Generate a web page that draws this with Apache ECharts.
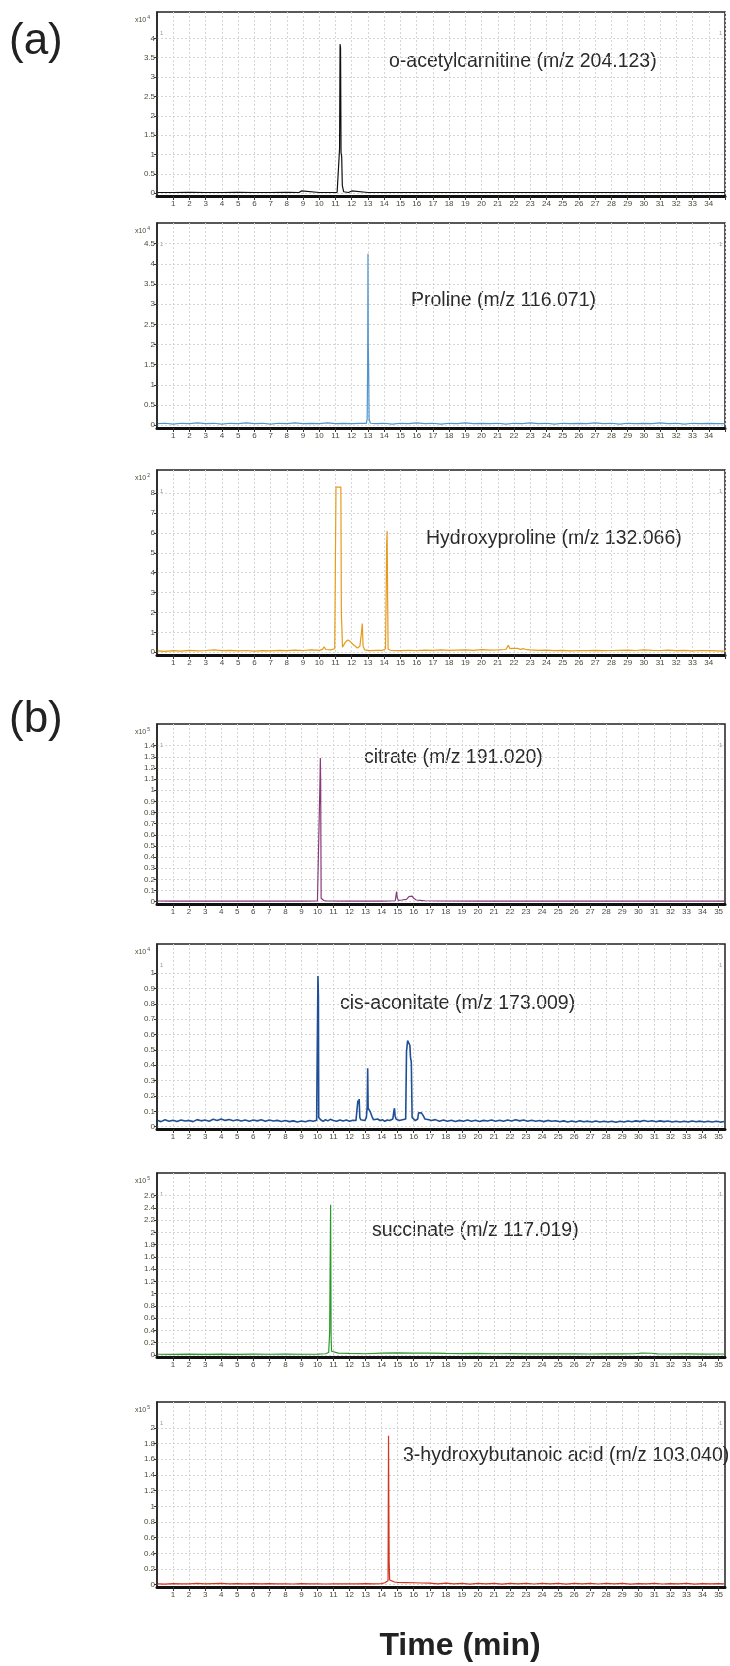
<!DOCTYPE html>
<html>
<head>
<meta charset="utf-8">
<script src="https://cdn.jsdelivr.net/npm/echarts@6/dist/echarts.min.js"></script>
<style>
html, body { margin: 0; padding: 0; background: #fff; }
#chart { width: 730px; height: 1666px; }
</style>
</head>
<body>
<div id="chart"></div>
<script>
// x axis: minutes
const minutesA = [1,2,3,4,5,6,7,8,9,10,11,12,13,14,15,16,17,18,19,20,21,22,23,24,25,26,27,28,29,30,31,32,33,34,35];
const labelsA = [1,2,3,4,5,6,7,8,9,10,11,12,13,14,15,16,17,18,19,20,21,22,23,24,25,26,27,28,29,30,31,32,33,34];
const minutesB = [1,2,3,4,5,6,7,8,9,10,11,12,13,14,15,16,17,18,19,20,21,22,23,24,25,26,27,28,29,30,31,32,33,34,35];

// y axis tick labels (scaled units)
const ticksAcetyl = [0,0.5,1,1.5,2,2.5,3,3.5,4];
const ticksProline = [0,0.5,1,1.5,2,2.5,3,3.5,4,4.5];
const ticksHyp = [0,1,2,3,4,5,6,7,8];
const ticksCitrate = [0,0.1,0.2,0.3,0.4,0.5,0.6,0.7,0.8,0.9,1,1.1,1.2,1.3,1.4];
const ticksCis = [0,0.1,0.2,0.3,0.4,0.5,0.6,0.7,0.8,0.9,1];
const ticksSucc = [0,0.2,0.4,0.6,0.8,1,1.2,1.4,1.6,1.8,2,2.2,2.4,2.6];
const ticks3HB = [0,0.2,0.4,0.6,0.8,1,1.2,1.4,1.6,1.8,2];

// traces [time (min), intensity]
const acetylcarnitine = [[0.05,0.02],[1,0.02],[2,0.025],[3,0.02],[4,0.02],[5,0.025],[6,0.02],[7,0.02],[8,0.025],[8.75,0.02],[8.8,0.06],[8.9,0.06],[8.95,0.02],[10,0.02],[11.1,0.025],[11.22,0.04],[11.25,1.15],[11.28,3.85],[11.31,3.75],[11.34,1.05],[11.38,0.95],[11.42,0.2],[11.5,0.04],[11.8,0.02],[11.85,0.06],[11.9,0.02],[12.0,0.06],[12.05,0.02],[13,0.02],[15,0.02],[18,0.02],[21,0.02],[24,0.02],[27,0.02],[30,0.02],[33,0.02],[35,0.02]];

const proline = [[0.05,0.04],[0.5,0.05],[1,0.03],[1.5,0.05],[2,0.04],[2.5,0.06],[3,0.04],[3.5,0.05],[4,0.03],[4.5,0.05],[5,0.04],[5.5,0.06],[6,0.04],[6.5,0.05],[7,0.03],[7.5,0.05],[8,0.04],[8.5,0.06],[9,0.04],[9.5,0.05],[10,0.04],[10.5,0.06],[11,0.04],[11.5,0.05],[12,0.04],[12.5,0.05],[12.9,0.05],[12.95,0.15],[12.98,1.5],[13.0,4.25],[13.02,1.95],[13.04,1.5],[13.07,0.15],[13.15,0.05],[13.5,0.04],[14,0.05],[14.5,0.03],[15,0.05],[15.5,0.04],[16,0.06],[16.5,0.04],[17,0.05],[17.5,0.03],[18,0.05],[18.5,0.04],[19,0.06],[19.5,0.04],[20,0.05],[20.5,0.04],[21,0.05],[21.5,0.03],[22,0.05],[22.5,0.04],[23,0.06],[23.5,0.04],[24,0.05],[24.5,0.03],[25,0.05],[25.5,0.04],[26,0.05],[26.5,0.04],[27,0.06],[27.5,0.04],[28,0.05],[28.5,0.03],[29,0.05],[29.5,0.04],[30,0.05],[30.5,0.04],[31,0.06],[31.5,0.04],[32,0.05],[32.5,0.03],[33,0.05],[33.5,0.04],[34,0.05],[34.5,0.04],[35,0.04]];

const hydroxyproline = [[0.05,0.07],[0.5,0.05],[1,0.08],[1.5,0.06],[2,0.1],[2.5,0.07],[3,0.09],[3.5,0.12],[4,0.08],[4.5,0.1],[5,0.07],[5.5,0.09],[6,0.06],[6.5,0.08],[7,0.07],[7.5,0.1],[8,0.08],[8.5,0.11],[9,0.09],[9.5,0.12],[10,0.1],[10.2,0.15],[10.3,0.28],[10.4,0.14],[10.7,0.12],[10.95,0.18],[11.03,8.3],[11.33,8.3],[11.36,2.0],[11.4,2.0],[11.43,0.25],[11.5,0.3],[11.6,0.5],[11.75,0.62],[11.9,0.55],[12.05,0.42],[12.2,0.32],[12.35,0.22],[12.5,0.3],[12.58,0.85],[12.62,0.9],[12.65,1.45],[12.7,0.3],[12.8,0.12],[13.1,0.08],[13.5,0.1],[13.9,0.1],[14.08,0.18],[14.12,2.9],[14.15,5.4],[14.18,6.1],[14.21,2.9],[14.24,0.15],[14.4,0.1],[15,0.08],[15.5,0.1],[16,0.09],[16.5,0.11],[17,0.1],[17.5,0.12],[18,0.1],[18.5,0.11],[19,0.12],[19.5,0.1],[20,0.13],[20.5,0.11],[21,0.12],[21.5,0.14],[21.65,0.35],[21.75,0.18],[21.9,0.2],[22.0,0.16],[22.2,0.2],[22.4,0.15],[22.6,0.18],[22.8,0.13],[23,0.12],[23.5,0.1],[24,0.11],[24.5,0.08],[25,0.1],[25.5,0.07],[26,0.09],[26.5,0.08],[27,0.1],[27.5,0.08],[28,0.09],[28.5,0.1],[29,0.11],[29.5,0.09],[30,0.12],[30.5,0.1],[31,0.09],[31.5,0.11],[32,0.08],[32.5,0.1],[33,0.07],[33.5,0.09],[34,0.08],[34.5,0.07],[35,0.06]];

const citrate = [[0.05,0.006],[1,0.005],[2,0.006],[3,0.005],[4,0.006],[5,0.005],[6,0.006],[7,0.005],[8,0.006],[9,0.005],[10,0.006],[10.12,0.01],[10.16,1.1],[10.18,1.29],[10.2,1.1],[10.23,0.03],[10.3,0.02],[10.4,0.01],[10.6,0.006],[12,0.005],[13,0.006],[14,0.005],[14.85,0.008],[14.93,0.09],[14.98,0.03],[15.05,0.012],[15.25,0.015],[15.55,0.02],[15.7,0.045],[15.8,0.055],[15.9,0.05],[16.0,0.03],[16.15,0.015],[16.4,0.012],[16.7,0.008],[17.6,0.006],[17.7,0.012],[17.8,0.006],[20,0.005],[22,0.006],[25,0.005],[28,0.006],[31,0.005],[35.35,0.005]];

const cisAconitate = [[0.05,0.040],[0.25,0.033],[0.5,0.045],[0.75,0.036],[1.0,0.042],[1.25,0.034],[1.5,0.044],[1.75,0.037],[2.0,0.041],[2.25,0.033],[2.5,0.046],[2.75,0.038],[3.0,0.043],[3.25,0.036],[3.5,0.048],[3.75,0.040],[4.0,0.050],[4.25,0.041],[4.5,0.047],[4.75,0.039],[5.0,0.045],[5.25,0.037],[5.5,0.044],[5.75,0.036],[6.0,0.043],[6.25,0.038],[6.5,0.045],[6.75,0.035],[7.0,0.044],[7.25,0.037],[7.5,0.041],[7.75,0.034],[8.0,0.040],[8.25,0.033],[8.5,0.038],[8.75,0.031],[9.0,0.037],[9.25,0.032],[9.5,0.040],[9.75,0.035],[9.95,0.042],[10.0,0.045],[10.03,0.98],[10.06,0.85],[10.08,0.06],[10.2,0.045],[10.35,0.035],[10.5,0.045],[10.65,0.038],[10.8,0.048],[11.0,0.040],[11.2,0.036],[11.4,0.044],[11.6,0.037],[11.8,0.043],[12.0,0.035],[12.2,0.042],[12.4,0.04],[12.48,0.05],[12.52,0.17],[12.56,0.15],[12.6,0.18],[12.64,0.06],[12.7,0.045],[12.8,0.05],[12.95,0.04],[13.05,0.06],[13.1,0.13],[13.13,0.38],[13.16,0.12],[13.22,0.13],[13.28,0.10],[13.34,0.11],[13.42,0.06],[13.5,0.045],[13.6,0.04],[13.75,0.05],[13.9,0.04],[14.05,0.045],[14.2,0.035],[14.35,0.044],[14.5,0.04],[14.7,0.05],[14.76,0.10],[14.8,0.12],[14.84,0.07],[14.9,0.05],[15.0,0.045],[15.1,0.04],[15.2,0.05],[15.3,0.045],[15.5,0.05],[15.55,0.49],[15.62,0.56],[15.7,0.55],[15.76,0.53],[15.8,0.45],[15.85,0.42],[15.9,0.06],[16.0,0.05],[16.1,0.04],[16.25,0.05],[16.3,0.09],[16.35,0.08],[16.4,0.1],[16.48,0.09],[16.6,0.07],[16.7,0.05],[16.8,0.055],[16.95,0.045],[17.1,0.04],[17.35,0.046],[17.6,0.036],[17.85,0.043],[18.1,0.035],[18.35,0.042],[18.6,0.034],[18.85,0.041],[19.1,0.036],[19.35,0.043],[19.6,0.035],[19.85,0.042],[20.1,0.034],[20.35,0.041],[20.6,0.037],[20.85,0.044],[21.1,0.036],[21.35,0.042],[21.6,0.035],[21.85,0.043],[22.1,0.037],[22.35,0.045],[22.6,0.038],[22.85,0.044],[23.1,0.036],[23.35,0.042],[23.6,0.035],[23.85,0.04],[24.1,0.033],[24.35,0.041],[24.6,0.035],[24.85,0.039],[25.1,0.032],[25.35,0.038],[25.6,0.031],[25.85,0.037],[26.1,0.03],[26.35,0.038],[26.6,0.032],[26.85,0.036],[27.1,0.03],[27.35,0.037],[27.6,0.031],[27.85,0.036],[28.1,0.03],[28.35,0.035],[28.6,0.029],[28.85,0.036],[29.1,0.031],[29.35,0.037],[29.6,0.032],[29.85,0.038],[30.1,0.033],[30.35,0.04],[30.6,0.034],[30.85,0.039],[31.1,0.032],[31.35,0.038],[31.6,0.033],[31.85,0.037],[32.1,0.031],[32.35,0.036],[32.6,0.03],[32.85,0.036],[33.1,0.031],[33.35,0.037],[33.6,0.032],[33.85,0.036],[34.1,0.03],[34.35,0.036],[34.6,0.031],[34.85,0.035],[35.1,0.03],[35.35,0.034]];

const succinate = [[0.05,0.012],[1,0.01],[2,0.014],[3,0.01],[4,0.013],[5,0.011],[6,0.014],[7,0.012],[8,0.015],[9,0.012],[10,0.015],[10.5,0.02],[10.7,0.04],[10.76,0.37],[10.79,0.35],[10.82,2.45],[10.85,0.3],[10.88,0.06],[11.0,0.04],[11.3,0.03],[12,0.025],[13,0.02],[14,0.03],[15,0.035],[16,0.03],[17,0.03],[18,0.025],[19,0.022],[20,0.025],[21,0.02],[22,0.022],[23,0.018],[24,0.02],[25,0.017],[26,0.019],[27,0.016],[28,0.018],[29,0.017],[29.8,0.02],[30.2,0.03],[30.8,0.028],[31.2,0.018],[32,0.016],[33,0.018],[34,0.015],[35.35,0.016]];

const hydroxybutanoic = [[0.05,0.012],[0.5,0.008],[1,0.014],[1.5,0.01],[2,0.012],[2.5,0.016],[3,0.01],[3.5,0.014],[4,0.018],[4.5,0.012],[5,0.015],[5.5,0.01],[6,0.013],[6.5,0.011],[7,0.014],[7.5,0.01],[8,0.012],[8.5,0.009],[9,0.013],[9.5,0.01],[10,0.012],[10.5,0.009],[11,0.011],[11.5,0.01],[12,0.012],[12.5,0.01],[13,0.013],[13.5,0.011],[14,0.015],[14.2,0.025],[14.3,0.04],[14.4,0.05],[14.43,1.9],[14.45,1.0],[14.47,0.28],[14.5,0.06],[14.6,0.045],[14.8,0.035],[15,0.03],[15.5,0.028],[16,0.025],[16.5,0.022],[17,0.02],[17.5,0.012],[18,0.02],[18.5,0.01],[19,0.018],[19.5,0.008],[20,0.017],[20.5,0.01],[21,0.018],[21.5,0.008],[22,0.016],[22.5,0.01],[23,0.018],[23.5,0.009],[24,0.016],[24.5,0.01],[25,0.017],[25.5,0.008],[26,0.016],[26.5,0.01],[27,0.018],[27.5,0.009],[28,0.016],[28.5,0.01],[29,0.017],[29.5,0.008],[30,0.015],[30.5,0.01],[31,0.016],[31.5,0.009],[32,0.015],[32.5,0.01],[33,0.016],[33.5,0.008],[34,0.015],[34.5,0.01],[35,0.014],[35.35,0.01]];

const panels = [
  {data: acetylcarnitine, color: '#111111', ticks: ticksAcetyl, exp: '4', name: 'o-acetylcarnitine (m/z 204.123)', top: 12, height: 184, ymin: -0.07, ymax: 4.68, lx: 389, ly: 62},
  {data: proline, color: '#4d94d0', ticks: ticksProline, exp: '4', name: 'Proline (m/z 116.071)', top: 223, height: 205, ymin: -0.067, ymax: 5.01, lx: 411, ly: 301},
  {data: hydroxyproline, color: '#e89a1a', ticks: ticksHyp, exp: '2', name: 'Hydroxyproline (m/z 132.066)', top: 470, height: 185, ymin: -0.136, ymax: 9.16, lx: 426, ly: 539},
  {data: citrate, color: '#8a3a7c', ticks: ticksCitrate, exp: '5', name: 'citrate (m/z 191.020)', top: 724, height: 180, ymin: -0.021, ymax: 1.595, lx: 364, ly: 758},
  {data: cisAconitate, color: '#1f4f96', ticks: ticksCis, exp: '4', name: 'cis-aconitate (m/z 173.009)', top: 944, height: 185, ymin: -0.015, ymax: 1.189, lx: 340, ly: 1004},
  {data: succinate, color: '#2a9a2a', ticks: ticksSucc, exp: '5', name: 'succinate (m/z 117.019)', top: 1173, height: 184, ymin: -0.033, ymax: 2.967, lx: 372, ly: 1231},
  {data: hydroxybutanoic, color: '#d2341c', ticks: ticks3HB, exp: '5', name: '3-hydroxybutanoic acid (m/z 103.040)', top: 1402, height: 185, ymin: -0.029, ymax: 2.33, lx: 403, ly: 1456}
];

const gridLine = {show: true, lineStyle: {color: '#d6d6d6', type: [2, 2], width: 1}};
const smallFont = {fontSize: 8, color: '#4a4a3a', fontFamily: 'Liberation Sans'};

let grids = [], xAxes = [], yAxes = [], series = [], graphics = [];

panels.forEach(function (p, i) {
  let partB = i >= 3;
  grids.push({left: 157, right: 5, top: p.top, height: p.height, show: true, borderColor: '#222', borderWidth: 1.5});
  xAxes.push({
    gridIndex: i, type: 'value', min: 0, max: partB ? 35.4 : 35,
    axisLine: {show: true, onZero: false, lineStyle: {color: '#111', width: 3}},
    axisTick: {show: true, customValues: partB ? minutesB : minutesA, length: 4, lineStyle: {color: '#333'}},
    axisLabel: Object.assign({customValues: partB ? minutesB : labelsA, margin: 4}, smallFont),
    splitLine: gridLine
  });
  yAxes.push({
    gridIndex: i, type: 'value', min: p.ymin, max: p.ymax,
    axisLine: {show: true, lineStyle: {color: '#222', width: 1.5}},
    axisTick: {show: true, customValues: p.ticks, length: 3, lineStyle: {color: '#333'}},
    axisLabel: Object.assign({customValues: p.ticks, margin: 2, formatter: function (v) { return String(v); }}, smallFont),
    splitLine: gridLine
  });
  series.push({
    type: 'line', xAxisIndex: i, yAxisIndex: i, data: p.data,
    showSymbol: false, silent: true, clip: true,
    lineStyle: {color: p.color, width: i === 4 ? 1.6 : 1.2},
    itemStyle: {color: p.color}
  });
  // compound label
  graphics.push({type: 'text', x: p.lx, y: p.ly, style: {text: p.name, fontSize: 19.5, fontFamily: 'Liberation Sans', fill: '#2a2a2a', verticalAlign: 'middle'}});
  // x10^n label
  graphics.push({type: 'text', x: 150, y: p.top + 8, style: {
    text: '{a|x10}{b|' + p.exp + '}', align: 'right', verticalAlign: 'middle',
    rich: {a: {fontSize: 7, fill: '#4a4a3a', fontFamily: 'Liberation Sans'}, b: {fontSize: 5, fill: '#4a4a3a', padding: [0, 0, 5, 1]}}
  }});
  // little "1" markers
  graphics.push({type: 'text', x: 160, y: p.top + 21, style: {text: '1', fontSize: 6, fill: '#999', verticalAlign: 'middle'}});
  graphics.push({type: 'text', x: 719, y: p.top + 21, style: {text: '1', fontSize: 6, fill: '#999', verticalAlign: 'middle'}});
});

graphics.push({type: 'text', x: 9, y: 42, style: {text: '(a)', fontSize: 44, fontFamily: 'Liberation Sans', fill: '#222', verticalAlign: 'middle'}});
graphics.push({type: 'text', x: 9, y: 720, style: {text: '(b)', fontSize: 44, fontFamily: 'Liberation Sans', fill: '#222', verticalAlign: 'middle'}});
graphics.push({type: 'text', x: 460, y: 1646, style: {text: 'Time (min)', fontSize: 32, fontWeight: 'bold', fontFamily: 'Liberation Sans', fill: '#222', align: 'center', verticalAlign: 'middle'}});

let myChart = echarts.init(document.getElementById('chart'));
myChart.setOption({
  animation: false,
  backgroundColor: '#fff',
  grid: grids,
  xAxis: xAxes,
  yAxis: yAxes,
  series: series,
  graphic: graphics
});
</script>
</body>
</html>
